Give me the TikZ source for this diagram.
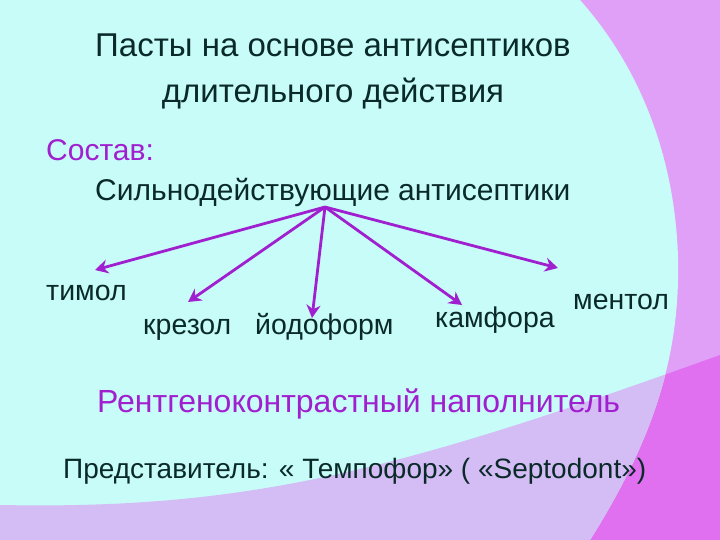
\documentclass[tikz,border=0pt]{standalone}
\usepackage{fontspec}
\setmainfont{Liberation Sans}
\usetikzlibrary{arrows.meta}
\definecolor{bgcyan}{HTML}{C8FCF8}
\definecolor{bgpink}{HTML}{E0A0F8}
\definecolor{bgmag}{HTML}{E070F0}
\definecolor{bglav}{HTML}{D4BCF4}
\definecolor{txt}{HTML}{0A2A2A}
\definecolor{purp}{HTML}{A020D0}
\begin{document}
\begin{tikzpicture}[x=1pt,y=-1pt,
  lbl/.style={inner sep=0pt,text=txt,font=\fontsize{28.5}{30}\selectfont},
  arr/.style={draw=purp,line width=2.8pt,-{Stealth[length=13pt,width=14pt]}}]
\useasboundingbox (0,0) rectangle (720,540);
\fill[bgpink] (0,0) rectangle (720,540);
\fill[bgmag] (0,505) .. controls (250,510) and (400,470) .. (720,355) -- (720,540) -- (0,540) -- cycle;
\begin{scope}
\clip (0,0) -- (580,0) .. controls (660,90) and (680,200) .. (678,280) .. controls (676,380) and (640,460) .. (590,540) -- (0,540) -- cycle;
\fill[bgcyan] (0,0) rectangle (720,540);
\fill[bglav] (0,505) .. controls (250,510) and (400,470) .. (720,355) -- (720,540) -- (0,540) -- cycle;
\end{scope}
\node[lbl,align=center,font=\fontsize{33}{46}\selectfont] (title) at (333,71) {Пасты на основе антисептиков\\длительного действия};
\node[lbl,anchor=west,text=purp,font=\fontsize{30}{32}\selectfont] (sostav) at (46,150) {Состав:};
\node[lbl,anchor=west,font=\fontsize{30}{32}\selectfont] (main) at (95,192) {Сильнодействующие антисептики};
\coordinate (o) at (325,207);
\node[lbl,anchor=west] (timol) at (46,293) {тимол};
\node[lbl,anchor=west] (krezol) at (143,330) {крезол};
\node[lbl,anchor=west] (iod) at (255,327) {йодоформ};
\node[lbl,anchor=west] (kamf) at (435,320) {камфора};
\node[lbl,anchor=west] (ment) at (573,302) {ментол};
\coordinate (e1) at (95,270);
\coordinate (e2) at (188,302);
\coordinate (e3) at (312,318);
\coordinate (e4) at (462,305);
\coordinate (e5) at (558,268);
\foreach \e in {e1,e2,e3,e4,e5} \draw[arr] (o) -- (\e);
\node[lbl,anchor=west,text=purp,font=\fontsize{32}{34}\selectfont] (rent) at (97,404) {Рентгеноконтрастный наполнитель};
\node[lbl,anchor=west,font=\fontsize{28}{30}\selectfont] (pred) at (63,471) {Представитель: « Темпофор» ( «Septodont»)};
\end{tikzpicture}
\end{document}
